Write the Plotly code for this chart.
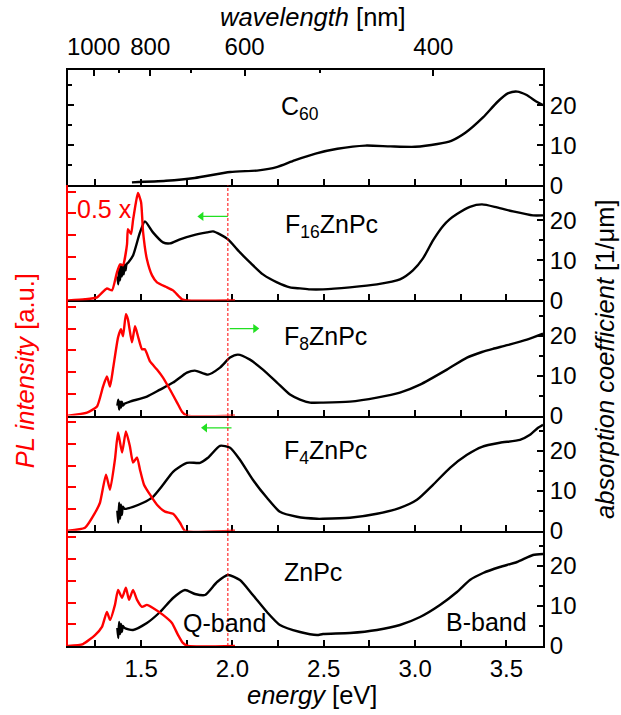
import plotly.graph_objects as go

# ---------------- data ----------------
# absorption coefficient [1/um] vs energy [eV]
c60_E = [1.45, 1.636, 1.794, 1.988, 2.144, 2.242, 2.34, 2.455, 2.575, 2.728, 2.865, 3.0, 3.122,
         3.198, 3.275, 3.373, 3.45, 3.51, 3.559, 3.608, 3.668, 3.70]
c60_A = [0.7, 1.1, 1.8, 3.3, 3.7, 4.5, 6.2, 7.9, 9.1, 9.9, 9.7, 9.6, 10.3,
         11.1, 13.1, 17.0, 20.8, 23.0, 23.4, 22.6, 20.8, 20.0]

f16_E = [1.370, 1.375, 1.380, 1.385, 1.390, 1.395, 1.400, 1.405, 1.410, 1.415, 1.420, 1.430, 1.456,
         1.494, 1.521, 1.565, 1.620, 1.658, 1.713, 1.784, 1.861, 1.894, 1.932, 1.976, 2.041, 2.096,
         2.167, 2.244, 2.315, 2.370, 2.425, 2.496, 2.643, 2.791, 2.917, 2.988, 3.043, 3.098, 3.153,
         3.190, 3.229, 3.300, 3.366, 3.448, 3.536, 3.645, 3.700]
f16_A = [6, 4, 8, 5, 9, 6, 8.5, 6.5, 9, 7.5, 9, 9.5, 11.25,
         17, 19.75, 17, 14.5, 14.25, 15.25, 16.25, 17, 17.25, 16.5, 15.25, 12, 9.5,
         6.5, 4.5, 3.25, 3.0, 2.75, 2.75, 3.25, 4, 5.25, 7.5, 10.5, 15.0, 18.6,
         20.3, 21.6, 23.4, 24, 23.25, 22.25, 21.25, 21.25]

f8_E = [1.370, 1.375, 1.380, 1.385, 1.390, 1.395, 1.400, 1.410, 1.439, 1.532, 1.604, 1.675, 1.751,
        1.795, 1.866, 1.932, 1.987, 2.030, 2.096, 2.167, 2.244, 2.315, 2.370, 2.425, 2.496, 2.643,
        2.791, 2.917, 3.027, 3.174, 3.284, 3.366, 3.426, 3.503, 3.612, 3.700]
f8_A = [2.5, 4, 1.5, 3.5, 2, 3.5, 2.5, 3, 3.5, 4.75, 6.5, 8.25, 10.75,
        11.25, 10.25, 12, 14.5, 15.25, 14, 11.5, 8.25, 5.25, 4, 3.25, 3.25, 3.5,
        4.5, 5.75, 7.75, 11.5, 14.5, 15.9, 16.7, 17.6, 19, 20.5]

f4_E = [1.370, 1.375, 1.380, 1.385, 1.390, 1.395, 1.400, 1.410, 1.456, 1.511, 1.565, 1.620, 1.675,
        1.751, 1.823, 1.866, 1.932, 1.987, 2.041, 2.112, 2.189, 2.260, 2.353, 2.463, 2.496, 2.643,
        2.791, 2.917, 3.010, 3.098, 3.191, 3.284, 3.366, 3.464, 3.574, 3.629, 3.673, 3.700]
f4_A = [5, 2, 7, 3, 6.5, 4, 6, 5.5, 6, 7, 8.5, 11.5, 14.75,
        17, 17, 18.25, 21.25, 20.75, 17.75, 12.75, 8.25, 4.75, 3.5, 3, 3, 3.25,
        4.25, 5.75, 7.75, 11.5, 15.75, 19, 21, 22, 22.75, 24, 25.75, 26.5]

zn_E = [1.370, 1.375, 1.380, 1.385, 1.390, 1.395, 1.400, 1.410, 1.456, 1.532, 1.604, 1.675, 1.740,
        1.795, 1.850, 1.916, 1.976, 2.041, 2.112, 2.189, 2.260, 2.370, 2.463, 2.496, 2.643, 2.791,
        2.917, 3.027, 3.136, 3.229, 3.300, 3.372, 3.464, 3.558, 3.645, 3.700]
zn_A = [4.5, 2, 6, 3, 5.5, 3.5, 5, 4.5, 4, 5.75, 8.5, 12, 14,
        13, 12.75, 16, 17.75, 16.5, 12.75, 8.5, 5.25, 3.5, 2.75, 3, 3.25, 4,
        5.25, 7.25, 10.25, 13.5, 16.5, 18.25, 19.75, 21, 22.75, 23]

# PL intensity [a.u.] vs energy [eV]
f16_plE = [1.10, 1.193, 1.259, 1.313, 1.341, 1.368, 1.385, 1.401, 1.423, 1.428, 1.445, 1.456, 1.472,
           1.483, 1.500, 1.511, 1.532, 1.560, 1.587, 1.642, 1.675, 1.724, 1.751, 2.014]
f16_pl = [0, 0.05, 0.14, 0.55, 0.46, 1.29, 1.66, 1.62, 2.58, 3.28, 3.05, 3.69, 4.52,
          4.94, 4.52, 3.14, 1.89, 1.15, 0.83, 0.6, 0.46, 0.05, 0, 0]

f8_plE = [1.10, 1.204, 1.259, 1.292, 1.313, 1.330, 1.346, 1.374, 1.390, 1.401, 1.417, 1.428, 1.450,
          1.467, 1.483, 1.505, 1.521, 1.549, 1.587, 1.620, 1.658, 1.697, 1.724, 1.751, 2.014]
f8_pl = [0, 0.14, 0.42, 1.34, 1.8, 1.34, 2.12, 3.6, 3.97, 3.65, 4.66, 4.43, 3.37,
         4.11, 3.65, 3.05, 3.05, 2.49, 2.12, 1.75, 1.2, 0.6, 0.18, 0, 0]

f4_plE = [1.10, 1.193, 1.248, 1.275, 1.308, 1.330, 1.357, 1.374, 1.396, 1.417, 1.439, 1.456, 1.478,
          1.494, 1.516, 1.549, 1.587, 1.631, 1.675, 1.713, 1.740, 2.014]
f4_pl = [0, 0.14, 0.83, 1.29, 2.58, 1.89, 3.28, 4.52, 3.6, 4.57, 3.88, 3.14, 3.37,
         2.81, 2.12, 1.66, 1.2, 0.88, 0.78, 0.37, 0, 0]

zn_plE = [1.10, 1.182, 1.248, 1.286, 1.313, 1.330, 1.357, 1.374, 1.396, 1.417, 1.434, 1.456, 1.478,
          1.505, 1.532, 1.565, 1.620, 1.669, 1.702, 1.729, 1.757, 2.014]
zn_pl = [0, 0.09, 0.5, 0.88, 1.57, 1.2, 1.89, 2.58, 2.22, 2.68, 2.12, 2.58, 2.12,
         1.8, 1.89, 1.75, 1.43, 1.06, 0.51, 0.14, 0, 0]

panel_names = ["C<sub>60</sub>", "F<sub>16</sub>ZnPc", "F<sub>8</sub>ZnPc", "F<sub>4</sub>ZnPc", "ZnPc"]
abs_data = [(c60_E, c60_A), (f16_E, f16_A), (f8_E, f8_A), (f4_E, f4_A), (zn_E, zn_A)]
pl_data = [None, (f16_plE, f16_pl), (f8_plE, f8_pl), (f4_plE, f4_pl), (zn_plE, zn_pl)]

wl_ticks = [1000, 900, 800, 700, 600, 500, 400]
wl_labels = ["1000", "", "800", "", "600", "", "400"]
energy_ticks = [1.5, 2.0, 2.5, 3.0, 3.5]
abs_ticks = [0, 10, 20]

x_range = [1.1, 3.7]
abs_range = [0, 28.8]
pl_range = [0, 5.3]
marker_E = 1.975          # dashed line energy
# green shift arrows: (panel, tail E, head E, y)
arrows = [(1, 1.975, 1.83, 21.0), (2, 1.985, 2.125, 21.75), (3, 1.995, 1.85, 25.75)]

FONT = "Liberation Sans, Arial, sans-serif"
RED = "#ff0000"
GREEN = "#22e022"
N = 5
TICK_SIZE = 24
TEXT_SIZE = 25
TITLE_SIZE = 25.5

fig = go.Figure()

for k in range(N):
    xa = "x" if k == 0 else f"x{k+1}"
    ya = "y" if k == 0 else f"y{k+1}"
    E, A = abs_data[k]
    fig.add_trace(go.Scatter(x=E, y=A, xaxis=xa, yaxis=ya, mode="lines",
                             line=dict(color="black", width=2.4, shape="spline", smoothing=0.6),
                             showlegend=False, hoverinfo="skip"))
    if pl_data[k] is not None:
        pE, pV = pl_data[k]
        fig.add_trace(go.Scatter(x=pE, y=pV, xaxis=xa, yaxis=f"y{k+6}", mode="lines",
                                 line=dict(color=RED, width=2.4, shape="spline", smoothing=0.5),
                                 cliponaxis=False, showlegend=False, hoverinfo="skip"))

# green arrows drawn as line + triangle head
for k, tail, head, yv in arrows:
    sym = "triangle-left" if head < tail else "triangle-right"
    fig.add_trace(go.Scatter(x=[tail, head], y=[yv, yv], xaxis=f"x{k+1}", yaxis=f"y{k+1}",
                             mode="lines", line=dict(color=GREEN, width=1.2),
                             showlegend=False, hoverinfo="skip"))
    fig.add_trace(go.Scatter(x=[head], y=[yv], xaxis=f"x{k+1}", yaxis=f"y{k+1}",
                             mode="markers", marker=dict(symbol=sym, size=8, color=GREEN),
                             showlegend=False, hoverinfo="skip"))

layout = dict(
    width=621, height=715,
    margin=dict(l=68, r=78, t=70, b=69),
    paper_bgcolor="white", plot_bgcolor="white",
    font=dict(family=FONT, size=TICK_SIZE, color="black"),
    showlegend=False,
)

for k in range(N):
    dom = [1 - (k + 1) / N, 1 - k / N]
    xkey = "xaxis" if k == 0 else f"xaxis{k+1}"
    ykey = "yaxis" if k == 0 else f"yaxis{k+1}"
    yid = "y" if k == 0 else f"y{k+1}"
    xid = "x" if k == 0 else f"x{k+1}"
    layout[xkey] = dict(
        domain=[0, 1], anchor=yid, range=x_range, showgrid=False, zeroline=False,
        showline=True, linecolor="black", linewidth=2, mirror=(k == 0),
        ticks="inside", ticklen=6, tickwidth=1.5, tickcolor="black",
        tickvals=energy_ticks, tickformat=".1f",
        showticklabels=(k == N - 1), tickfont=dict(size=TICK_SIZE),
        minor=dict(dtick=0.25, tick0=1.25, ticks="inside", ticklen=6, tickwidth=1.5, tickcolor="black"),
        layer="below traces",
    )
    if k > 0:
        layout[xkey]["matches"] = "x"
    layout[ykey] = dict(
        domain=dom, anchor=xid, side="right", range=abs_range, showgrid=False, zeroline=False,
        showline=True, linecolor="black", linewidth=2, mirror=("ticks" if k == 0 else False),
        ticks="inside", ticklen=6, tickwidth=1.5, tickcolor="black",
        tickvals=abs_ticks, tickfont=dict(size=TICK_SIZE),
        minor=dict(dtick=5, ticks="inside", ticklen=4, tickwidth=1.5, tickcolor="black"),
    )
    if k > 0:
        layout[f"yaxis{k+6}"] = dict(
            overlaying=yid, anchor=xid, side="left", range=pl_range, showgrid=False, zeroline=False,
            showline=True, linecolor=RED, linewidth=2,
            ticks="inside", ticklen=8, tickwidth=1.5, tickcolor=RED, dtick=1,
            showticklabels=False,
        )

# top wavelength axis
wl_pos = [1240.0 / w for w in wl_ticks]
layout["xaxis6"] = dict(
    overlaying="x", anchor="y", side="top", range=x_range, showgrid=False, zeroline=False,
    showline=False, ticks="inside", ticklen=6, tickwidth=1.5, tickcolor="black",
    tickvals=[p for p, t in zip(wl_pos, wl_labels) if t],
    ticktext=[t for t in wl_labels if t], tickfont=dict(size=TICK_SIZE),
    ticklabelstandoff=9,
    minor=dict(tickvals=[p for p, t in zip(wl_pos, wl_labels) if not t], ticks="inside",
               ticklen=3, tickwidth=1.5, tickcolor="black"),
)
fig.add_trace(go.Scatter(x=[None], y=[None], xaxis="x6", yaxis="y", showlegend=False))

fig.update_layout(**layout)

# dashed marker line across panels 2-5
fig.add_shape(type="line", xref="x", yref="paper", x0=marker_E, x1=marker_E, y0=0, y1=0.8,
              line=dict(color=RED, width=1, dash="3px,2px"))

# panel labels
label_pos = [(2.37, 19.3), (2.54, 18.6), (2.51, 19.4), (2.51, 19.6), (2.44, 18.5)]
for k in range(N):
    xr = "x" if k == 0 else f"x{k+1}"
    yr = "y" if k == 0 else f"y{k+1}"
    fig.add_annotation(x=label_pos[k][0], y=label_pos[k][1], xref=xr, yref=yr, text=panel_names[k],
                       showarrow=False, font=dict(size=TEXT_SIZE), xanchor="center", yanchor="middle")

fig.add_annotation(x=1.954, y=5.75, xref="x5", yref="y5", text="Q-band", showarrow=False,
                   font=dict(size=TEXT_SIZE), xanchor="center", yanchor="middle")
fig.add_annotation(x=3.393, y=6.0, xref="x5", yref="y5", text="B-band", showarrow=False,
                   font=dict(size=TEXT_SIZE), xanchor="center", yanchor="middle")
fig.add_annotation(x=1.30, y=22.75, xref="x2", yref="y2", text="0.5 x", showarrow=False,
                   font=dict(size=TEXT_SIZE, color=RED), xanchor="center", yanchor="middle")

# axis titles
fig.add_annotation(x=0.516, y=1.092, xref="paper", yref="paper", text="<i>wavelength</i> [nm]",
                   showarrow=False, font=dict(size=TITLE_SIZE), xanchor="center", yanchor="middle")
fig.add_annotation(x=0.514, y=-0.085, xref="paper", yref="paper", text="<i>energy</i> [eV]",
                   showarrow=False, font=dict(size=TITLE_SIZE), xanchor="center", yanchor="middle")
fig.add_annotation(x=-0.0905, y=0.477, xref="paper", yref="paper", text="<i>PL intensity</i> [a.u.]",
                   showarrow=False, font=dict(size=TITLE_SIZE, color=RED), textangle=-90,
                   xanchor="center", yanchor="middle")
fig.add_annotation(x=1.131, y=0.497, xref="paper", yref="paper",
                   text="<i>absorption coefficient</i> [1/μm]",
                   showarrow=False, font=dict(size=TITLE_SIZE), textangle=-90,
                   xanchor="center", yanchor="middle")

fig.write_html("out.html")
